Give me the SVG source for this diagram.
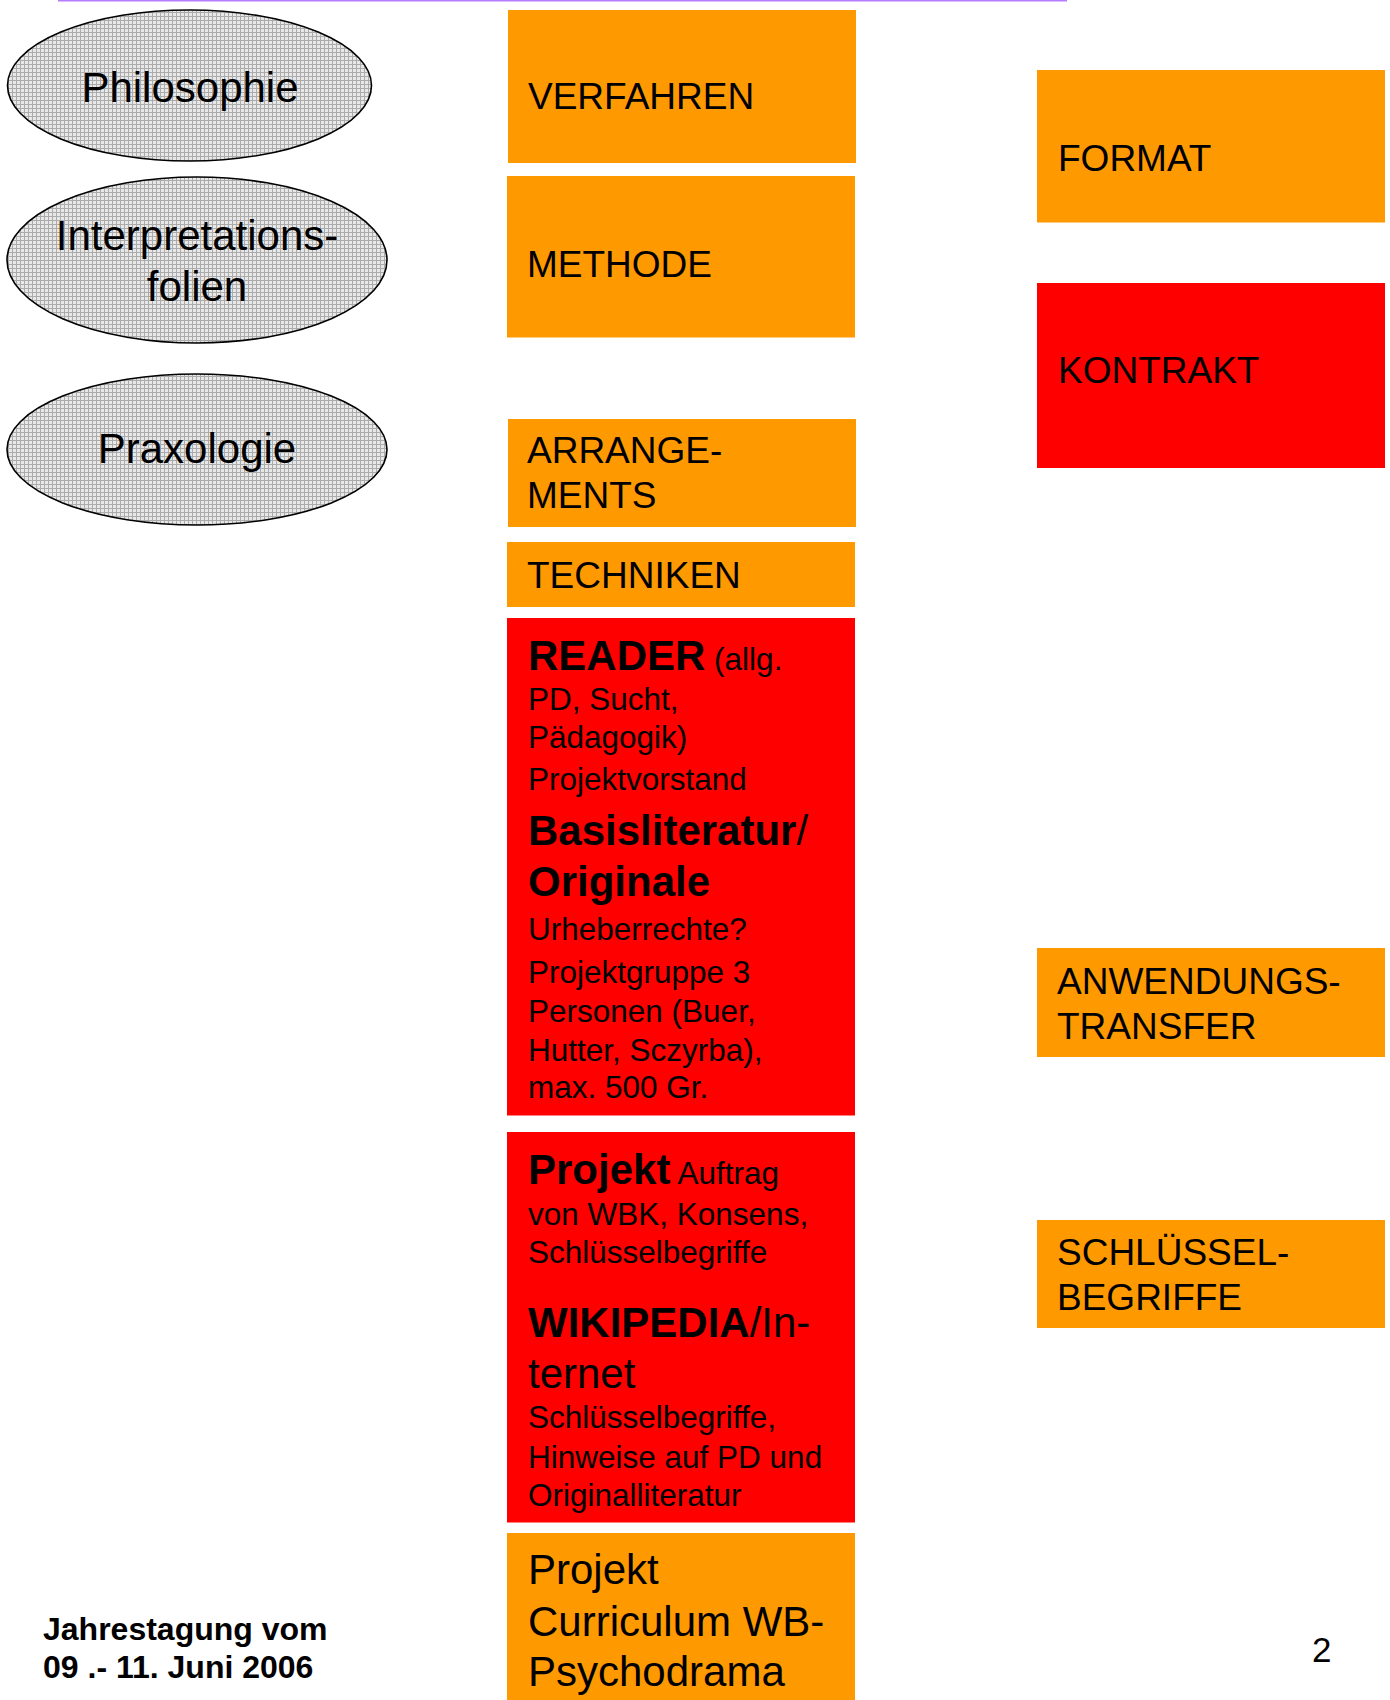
<svg xmlns="http://www.w3.org/2000/svg" width="1390" height="1700" viewBox="0 0 1390 1700">
<style>
  text { font-family: "Liberation Sans", Arial, sans-serif; fill: #000; }
  .or { fill: #ff9900; }
  .rd { fill: #ff0000; }
  .ell { fill: url(#hatch); stroke: #000; stroke-width: 1.6; }
  .lbl { font-size: 37px; }
  .el { font-size: 42px; text-anchor: middle; }
  .s { font-size: 31.5px; }
  .b { font-size: 42px; font-weight: bold; }
  .m { font-size: 42px; }
  .foot { font-size: 32px; font-weight: bold; }
</style>
<defs>
  <pattern id="hatch" width="4" height="4" patternUnits="userSpaceOnUse">
    <rect width="4" height="4" fill="#e8e8e8"/>
    <path d="M0.5 0V4M0 0.5H4" stroke="#ababab" stroke-width="1"/>
  </pattern>
</defs>
<rect width="1390" height="1700" fill="#fff"/>
<line x1="58" y1="0.75" x2="1067" y2="0.75" stroke="#b57cff" stroke-width="1.5"/>

<g id="connectors"></g>

<g id="philosophie">
  <ellipse class="ell" cx="189.5" cy="85.5" rx="182" ry="75.5"/>
  <text class="el" x="190" y="102">Philosophie</text>
</g>
<g id="interpretationsfolien">
  <ellipse class="ell" cx="197" cy="260" rx="190" ry="83"/>
  <text class="el" x="197" y="250">Interpretations-</text>
  <text class="el" x="197" y="300.5">folien</text>
</g>
<g id="praxologie">
  <ellipse class="ell" cx="197" cy="449.5" rx="190" ry="75.5"/>
  <text class="el" x="197" y="463">Praxologie</text>
</g>

<g id="verfahren">
  <rect class="or" x="508" y="10" width="348" height="153"/>
  <text class="lbl" x="528" y="109">VERFAHREN</text>
</g>
<g id="methode">
  <rect class="or" x="507" y="176" width="348" height="161.5"/>
  <text class="lbl" x="527" y="277">METHODE</text>
</g>
<g id="arrangements">
  <rect class="or" x="508" y="419" width="348" height="108"/>
  <text class="lbl" x="527" y="463">ARRANGE-</text>
  <text class="lbl" x="527" y="508">MENTS</text>
</g>
<g id="techniken">
  <rect class="or" x="507" y="542" width="348" height="65"/>
  <text class="lbl" x="527" y="588">TECHNIKEN</text>
</g>
<g id="reader">
  <rect class="rd" x="507" y="618" width="348" height="497.5"/>
  <text x="528" y="670"><tspan class="b">READER</tspan><tspan class="s"> (allg.</tspan></text>
  <text class="s" x="528" y="710">PD, Sucht,</text>
  <text class="s" x="528" y="748">Pädagogik)</text>
  <text class="s" x="528" y="790">Projektvorstand</text>
  <text x="528" y="844.5"><tspan class="b">Basisliteratur</tspan><tspan class="m">/</tspan></text>
  <text class="b" x="528" y="895.5">Originale</text>
  <text class="s" x="528" y="940">Urheberrechte?</text>
  <text class="s" x="528" y="983">Projektgruppe 3</text>
  <text class="s" x="528" y="1022">Personen (Buer,</text>
  <text class="s" x="528" y="1061">Hutter, Sczyrba),</text>
  <text class="s" x="528" y="1098">max. 500 Gr.</text>
</g>
<g id="projekt">
  <rect class="rd" x="507" y="1132" width="348" height="390.5"/>
  <text x="528" y="1183.5"><tspan class="b">Projekt</tspan><tspan class="s"> Auftrag</tspan></text>
  <text class="s" x="528" y="1224.5">von WBK, Konsens,</text>
  <text class="s" x="528" y="1262.5">Schlüsselbegriffe</text>
  <text x="528" y="1336.5"><tspan class="b">WIKIPEDIA</tspan><tspan class="m">/In-</tspan></text>
  <text class="m" x="528" y="1388">ternet</text>
  <text class="s" x="528" y="1428">Schlüsselbegriffe,</text>
  <text class="s" x="528" y="1468">Hinweise auf PD und</text>
  <text class="s" x="528" y="1506">Originalliteratur</text>
</g>
<g id="curriculum">
  <rect class="or" x="507" y="1533" width="348" height="167"/>
  <text class="m" x="528" y="1584">Projekt</text>
  <text class="m" x="528" y="1636">Curriculum WB-</text>
  <text class="m" x="528" y="1686">Psychodrama</text>
</g>

<g id="format">
  <rect class="or" x="1037" y="70" width="348" height="152.5"/>
  <text class="lbl" x="1058" y="171">FORMAT</text>
</g>
<g id="kontrakt">
  <rect class="rd" x="1037" y="283" width="348" height="185"/>
  <text class="lbl" x="1058" y="383">KONTRAKT</text>
</g>
<g id="anwendungstransfer">
  <rect class="or" x="1037" y="948" width="348" height="109"/>
  <text class="lbl" x="1057" y="994">ANWENDUNGS-</text>
  <text class="lbl" x="1057" y="1039">TRANSFER</text>
</g>
<g id="schluesselbegriffe">
  <rect class="or" x="1037" y="1220" width="348" height="108"/>
  <text class="lbl" x="1057" y="1265">SCHLÜSSEL-</text>
  <text class="lbl" x="1057" y="1310">BEGRIFFE</text>
</g>

<g id="footer">
  <text class="foot" x="43" y="1640">Jahrestagung vom</text>
  <text class="foot" x="43" y="1678">09 .- 11. Juni 2006</text>
  <text x="1312" y="1662" style="font-size:35px">2</text>
</g>
</svg>
